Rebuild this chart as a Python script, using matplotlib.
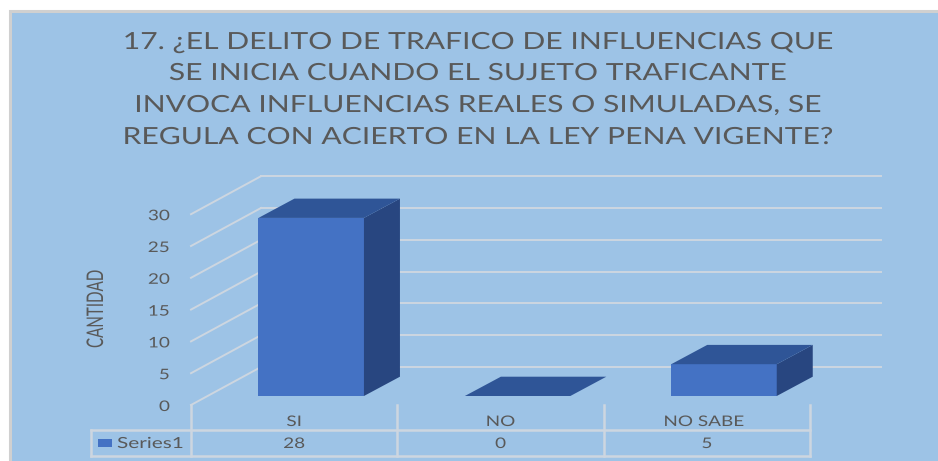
import matplotlib
matplotlib.use('Agg')
import matplotlib.pyplot as plt
from matplotlib.patches import Polygon, Rectangle
from matplotlib.patheffects import AbstractPathEffect
from matplotlib.transforms import Affine2D

WIDTH, HEIGHT = 938, 461

TITLE_LINES = [
    '17. ¿EL DELITO DE TRAFICO DE INFLUENCIAS QUE',
    'SE INICIA CUANDO EL SUJETO TRAFICANTE',
    'INVOCA INFLUENCIAS REALES O SIMULADAS, SE',
    'REGULA CON ACIERTO EN LA LEY PENA VIGENTE?',
]
categories = ['SI', 'NO', 'NO SABE']
values = [28, 0, 5]
y_ticks = [0, 5, 10, 15, 20, 25, 30]
series_name = 'Series1'

BG = '#9DC3E6'
BORDER = '#D0D0D0'
GRID = '#CDD6E0'
TEXT = '#595959'
FRONT = '#4472C4'
TOP = '#2F5597'
SIDE = '#284680'
FONT = 'Lato'

# one x unit is one category, one y unit is one count
PX_X = 206.4
PX_Y = 6.36
X0_PX, Y0_PX = 191, 405


def px(x):
    return x / PX_X


def py(y):
    return y / PX_Y


class Stretch(AbstractPathEffect):
    """The source picture was stretched sideways, so the glyphs are too"""

    def __init__(self, factor):
        self.factor = factor

    def draw_path(self, renderer, gc, tpath, affine, rgbFace=None):
        renderer.draw_path(gc, tpath, Affine2D().scale(self.factor, 1) + affine, rgbFace)


def label(x_px, y_px, s, size, factor, align='left', rotation=0):
    # x_px, y_px are picture pixels, y_px is the baseline
    t = ax.text(px(x_px - X0_PX), py(Y0_PX - y_px), s, ha='left', va='baseline', fontsize=size, color=TEXT,
                family=FONT, rotation=rotation, rotation_mode='anchor', zorder=5)
    t.set_path_effects([Stretch(factor)])
    if align != 'left':
        w = t.get_window_extent(fig.canvas.get_renderer()).width * factor
        shift = w / 2 if align == 'center' else w
        t.set_x(px(x_px - X0_PX - shift))
    return t


fig = plt.figure(figsize=(WIDTH / 100, HEIGHT / 100), dpi=100)
fig.patch.set_facecolor('white')
ax = fig.add_axes([0, 0, 1, 1])
ax.set_xlim(-px(X0_PX), px(WIDTH - X0_PX))
ax.set_ylim(-py(HEIGHT - Y0_PX), py(Y0_PX))
ax.axis('off')

# panel background, runs off the right and bottom edges
x_left, x_right = ax.get_xlim()
y_bottom, y_top = ax.get_ylim()
ax.add_patch(Rectangle((x_left + px(9.5), y_bottom - 1), x_right - x_left, y_top - py(11) - y_bottom + 1,
                       facecolor=BG, edgecolor=BORDER, linewidth=2.2, zorder=0))

# depth of the floor and of the bars
wall_dx, wall_dy = px(70), py(38)
bar_dx, bar_dy = px(36), py(19.3)
bar_off_x, bar_off_y = px(17), py(9)
bar_w = px(105.5)

for t in y_ticks:
    ax.plot([0, wall_dx], [t, t + wall_dy], color=GRID, lw=1.4, zorder=1)
    ax.plot([wall_dx, px(881 - X0_PX)], [t + wall_dy, t + wall_dy], color=GRID, lw=1.4, zorder=1)
    label(170, Y0_PX - t * PX_Y + 6, str(t), 10.5, 1.3, 'right')

for i, (cat, val) in enumerate(zip(categories, values)):
    x1 = i + 0.5 - bar_w / 2 + bar_off_x
    x2 = x1 + bar_w
    y1 = bar_off_y
    y2 = val + bar_off_y
    if val > 0:
        ax.add_patch(Polygon([(x1, y1), (x2, y1), (x2, y2), (x1, y2)], facecolor=FRONT, edgecolor='none', zorder=3))
        ax.add_patch(Polygon([(x2, y1), (x2 + bar_dx, y1 + bar_dy), (x2 + bar_dx, y2 + bar_dy), (x2, y2)],
                             facecolor=SIDE, edgecolor='none', zorder=3))
    ax.add_patch(Polygon([(x1, y2), (x2, y2), (x2 + bar_dx, y2 + bar_dy), (x1 + bar_dx, y2 + bar_dy)],
                         facecolor=TOP, edgecolor='none', zorder=3))

# data table under the plot
row1 = py(-25)
row2 = py(-51)
table_left = px(91 - X0_PX)
ax.plot([table_left, 3], [row1, row1], color=GRID, lw=1.8, zorder=2)
ax.plot([table_left, 3], [row2, row2], color=GRID, lw=1.8, zorder=2)
ax.plot([table_left, table_left], [row1, row2], color=GRID, lw=1.8, zorder=2)
for i in range(len(categories) + 1):
    ax.plot([i, i], [0, row2], color=GRID, lw=1.8, zorder=2)

for i, (cat, val) in enumerate(zip(categories, values)):
    cx = X0_PX + (i + 0.5) * PX_X
    label(cx - (3 if cat == 'NO SABE' else 0), 426, cat, 10.5, 1.3, 'center')
    label(cx, 448, str(val), 10.5, 1.3, 'center')

ax.add_patch(Rectangle((px(98 - X0_PX), py(-42)), px(14), py(8), facecolor=FRONT, edgecolor='none', zorder=3))
label(117, 448, series_name, 11, 1.36)

label(103, 348, 'CANTIDAD', 16.5, 0.66, rotation=90)

for line, y_px in zip(TITLE_LINES, [49, 80, 112, 144]):
    label(478, y_px, line, 17, 1.275, 'center')

fig.savefig('out.png', dpi=100)
